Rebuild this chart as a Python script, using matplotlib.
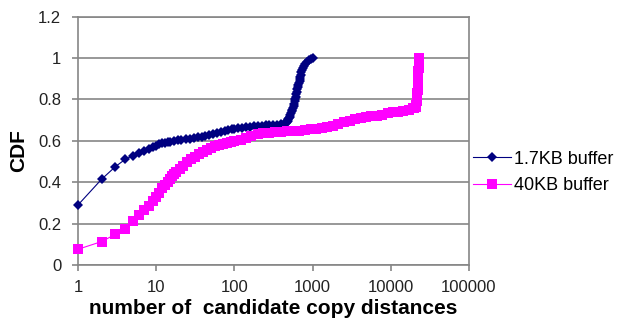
import matplotlib.pyplot as plt
import numpy as np
from matplotlib.ticker import NullLocator, FixedLocator, FixedFormatter

# CDF of candidate copy distances
small_x = [1, 2, 3, 4, 5, 6, 7, 8, 9, 10, 11, 12, 13, 14, 15, 17, 19, 21, 24,
           27, 30, 34, 38, 42, 47, 53, 60, 67, 75, 84, 94, 100, 112, 125, 140,
           158, 178, 200, 225, 250, 280, 315, 355, 400, 430, 445, 460, 470, 480,
           490, 500, 510, 520, 530, 540, 550, 560, 570, 580, 590, 600, 610, 620,
           630, 640, 650, 660, 670, 680, 690, 700, 710, 720, 730, 745, 770, 800,
           850, 900, 950, 1000]
small_cdf = [0.29, 0.414, 0.475, 0.51, 0.528, 0.54, 0.552, 0.562, 0.57, 0.577,
             0.583, 0.588, 0.591, 0.594, 0.596, 0.60, 0.603, 0.605, 0.608,
             0.611, 0.614, 0.617, 0.62, 0.623, 0.627, 0.632, 0.637, 0.641,
             0.646, 0.651, 0.655, 0.658, 0.661, 0.664, 0.666, 0.668, 0.67,
             0.672, 0.673, 0.675, 0.676, 0.677, 0.678, 0.679, 0.681, 0.684,
             0.688, 0.692, 0.697, 0.703, 0.71, 0.717, 0.725, 0.733, 0.742,
             0.751, 0.76, 0.77, 0.78, 0.79, 0.80, 0.812, 0.825, 0.837, 0.85,
             0.86, 0.87, 0.88, 0.89, 0.90, 0.91, 0.92, 0.93, 0.94, 0.95, 0.96,
             0.97, 0.98, 0.988, 0.995, 1.0]

large_x = [1, 2, 3, 4, 5, 6, 7, 8, 9, 10, 11, 12, 13, 14, 15, 16, 17, 18, 20,
           22, 25, 28, 31, 35, 40, 45, 50, 56, 63, 71, 80, 90, 100, 120, 140,
           165, 200, 235, 280, 330, 400, 470, 560, 670, 800, 950, 1100, 1300,
           1550, 1800, 2100, 2500, 3000, 3500, 4100, 4800, 5600, 6600, 7800,
           9200, 10800, 12500, 14500, 17000, 19000, 20000, 21000, 21300, 21500,
           21700, 21900, 22000, 22100, 22200, 22300, 22400, 22500, 22600, 22700,
           22800, 22900, 23000]
large_cdf = [0.076, 0.113, 0.148, 0.175, 0.213, 0.24, 0.265, 0.285, 0.308,
             0.33, 0.35, 0.37, 0.385, 0.40, 0.415, 0.428, 0.438, 0.448, 0.465,
             0.48, 0.50, 0.512, 0.522, 0.535, 0.547, 0.557, 0.565, 0.573, 0.58,
             0.585, 0.59, 0.594, 0.597, 0.605, 0.613, 0.622, 0.633, 0.637,
             0.64, 0.642, 0.644, 0.645, 0.647, 0.649, 0.652, 0.656, 0.659,
             0.662, 0.666, 0.673, 0.682, 0.69, 0.698, 0.704, 0.71, 0.715,
             0.718, 0.722, 0.727, 0.733, 0.737, 0.741, 0.746, 0.751, 0.757,
             0.76, 0.765, 0.775, 0.79, 0.81, 0.83, 0.845, 0.86, 0.875, 0.89,
             0.905, 0.92, 0.935, 0.95, 0.965, 0.98, 1.0]

series_labels = ['1.7KB buffer', '40KB buffer']
x_ticks = [1, 10, 100, 1000, 10000, 100000]
y_ticks = [0, 0.2, 0.4, 0.6, 0.8, 1.0, 1.2]
y_ticklabels = ['0', '0.2', '0.4', '0.6', '0.8', '1', '1.2']

plt.rcParams['font.family'] = ['Liberation Sans', 'DejaVu Sans']

fig = plt.figure(figsize=(6.21, 3.21), dpi=100)
ax = fig.add_axes([78 / 621, 1 - 265 / 321, (469 - 78) / 621, (265 - 16.6) / 321])

grey = '#868686'
ax.plot(small_x, small_cdf, color='#000080', marker='D', markersize=5.6,
        markeredgewidth=0, linewidth=0.8, label=series_labels[0],
        clip_on=False, zorder=3)
ax.plot(large_x, large_cdf, color='#ff00ff', marker='s', markersize=7.8,
        markeredgewidth=0, linewidth=0.8, label=series_labels[1],
        clip_on=False, zorder=4)

ax.set_xscale('log')
ax.set_xlim(1, 100000)
ax.set_ylim(0, 1.2)
ax.xaxis.set_major_locator(FixedLocator(x_ticks))
ax.xaxis.set_major_formatter(FixedFormatter([str(t) for t in x_ticks]))
ax.xaxis.set_minor_locator(NullLocator())
ax.set_yticks(y_ticks)
ax.set_yticklabels(y_ticklabels)

ax.yaxis.grid(True, color=grey, linewidth=1.2)
ax.set_axisbelow(True)
for side in ['left', 'bottom', 'right', 'top']:
    ax.spines[side].set_color(grey)
    ax.spines[side].set_linewidth(1.2)
ax.tick_params(axis='both', direction='out', length=4, width=1.2,
               color=grey, labelsize=12, labelcolor='#222222')
ax.tick_params(axis='y', pad=8)
ax.tick_params(axis='x', pad=7)

fig.text(273 / 621, 1 - 308 / 321, 'number of  candidate copy distances',
         ha='center', va='center', fontsize=15, fontweight='bold')
fig.text(19 / 621, 1 - 151 / 321, 'CDF', rotation=90, ha='center',
         va='center', fontsize=15, fontweight='bold')

fig.legend(loc='center left', bbox_to_anchor=(473 / 621, 1 - 172.5 / 321),
           frameon=False, fontsize=13, handlelength=2.1, handletextpad=0.15,
           borderpad=0, borderaxespad=0, labelspacing=0.55)

fig.savefig('out.png', dpi=100)
